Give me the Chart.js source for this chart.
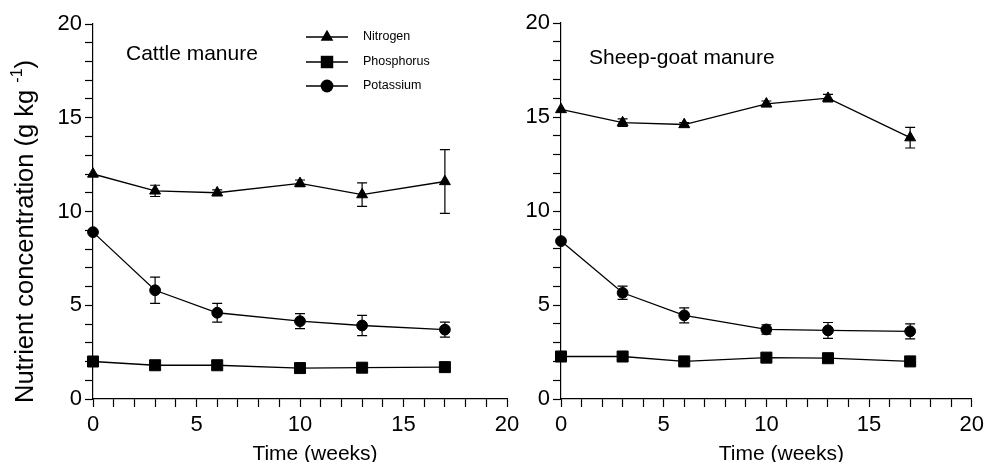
<!DOCTYPE html>
<html>
<head>
<meta charset="utf-8">
<script src="https://cdn.jsdelivr.net/npm/chart.js@4.4.0/dist/chart.umd.min.js"></script>
<style>
  html, body { margin: 0; padding: 0; background: #fff; }
  #wrap { position: relative; width: 989px; height: 462px; overflow: hidden; }
  canvas { position: absolute; top: 0; }
  #left { left: 0; }
  #right { left: 520px; }
</style>
</head>
<body>
<div id="wrap">
  <canvas id="left" width="540" height="462"></canvas>
  <canvas id="right" width="469" height="462"></canvas>
</div>
<script>
// sampling times (weeks)
const weeks = [0, 3, 6, 10, 13, 17];
const seriesNames = ["Nitrogen", "Phosphorus", "Potassium"];
const xTickLabels = [0, 5, 10, 15, 20];
const yTickLabels = [0, 5, 10, 15, 20];

// cattle manure, g kg-1
const cattleN = [12.0, 11.1, 11.0, 11.5, 10.9, 11.6];
const cattleNErr = [0, 0.3, 0.15, 0.18, 0.63, 1.7];
const cattleP = [2.0, 1.8, 1.8, 1.65, 1.67, 1.7];
const cattlePErr = [0, 0, 0, 0, 0, 0];
const cattleK = [8.9, 5.8, 4.6, 4.15, 3.92, 3.7];
const cattleKErr = [0, 0.7, 0.5, 0.4, 0.54, 0.4];

// sheep-goat manure, g kg-1
const sheepN = [15.4, 14.7, 14.6, 15.7, 16.0, 13.9];
const sheepNErr = [0, 0.2, 0.1, 0.15, 0.2, 0.55];
const sheepP = [2.26, 2.26, 2.0, 2.2, 2.17, 2.0];
const sheepPErr = [0, 0, 0, 0, 0, 0];
const sheepK = [8.4, 5.65, 4.45, 3.7, 3.65, 3.6];
const sheepKErr = [0, 0.35, 0.4, 0.25, 0.42, 0.4];

const FONT = "'Liberation Sans', Arial, Helvetica, sans-serif";
const styles = [
  { pointStyle: "triangle", radius: 6.3 },
  { pointStyle: "rect", radius: 7.8 },
  { pointStyle: "circle", radius: 5.4 },
];

function toPoints(vals) {
  return vals.map((v, i) => ({ x: weeks[i], y: v }));
}

function makeDatasets(values, errors) {
  return values.map((vals, k) => ({
    label: seriesNames[k],
    data: toPoints(vals),
    errors: errors[k],
    borderColor: "#000",
    borderWidth: 1.3,
    backgroundColor: "#000",
    pointBackgroundColor: "#000",
    pointBorderColor: "#000",
    pointBorderWidth: 1,
    pointStyle: styles[k].pointStyle,
    pointRadius: styles[k].radius,
    tension: 0,
    clip: false,
  }));
}

// draws vertical error bars with caps behind the markers
const errorBars = {
  id: "errorBars",
  beforeDatasetsDraw(chart) {
    const ctx = chart.ctx;
    const xs = chart.scales.x, ys = chart.scales.y;
    ctx.save();
    ctx.strokeStyle = "#000";
    ctx.lineWidth = 1.2;
    chart.data.datasets.forEach((ds) => {
      ds.data.forEach((p, i) => {
        const e = ds.errors[i];
        if (!e) return;
        const px = xs.getPixelForValue(p.x);
        const top = ys.getPixelForValue(p.y + e);
        const bot = ys.getPixelForValue(p.y - e);
        ctx.beginPath();
        ctx.moveTo(px, top); ctx.lineTo(px, bot);
        ctx.moveTo(px - 5, top); ctx.lineTo(px + 5, top);
        ctx.moveTo(px - 5, bot); ctx.lineTo(px + 5, bot);
        ctx.stroke();
      });
    });
    ctx.restore();
  },
};

function marker(ctx, style, x, y, r) {
  ctx.beginPath();
  if (style === "triangle") {
    ctx.moveTo(x, y - r);
    ctx.lineTo(x + r * 0.866, y + r * 0.5);
    ctx.lineTo(x - r * 0.866, y + r * 0.5);
    ctx.closePath();
  } else if (style === "rect") {
    const s = r * Math.SQRT1_2;
    ctx.rect(x - s, y - s, 2 * s, 2 * s);
  } else {
    ctx.arc(x, y, r, 0, Math.PI * 2);
  }
  ctx.fill();
}

// panel label, axis titles and the legend
const panelText = {
  id: "panelText",
  afterDraw(chart, args, opts) {
    const ctx = chart.ctx;
    const a = chart.chartArea;
    ctx.save();
    ctx.fillStyle = "#000";
    ctx.strokeStyle = "#000";

    ctx.font = "21px " + FONT;
    ctx.textAlign = "left";
    ctx.textBaseline = "alphabetic";
    ctx.fillText(opts.label, a.left + opts.labelDx, opts.labelY);

    ctx.textAlign = "center";
    ctx.fillText("Time (weeks)", (a.left + a.right) / 2 + 15, 460);

    if (opts.yTitle) {
      ctx.save();
      ctx.translate(33, 403);
      ctx.rotate(-Math.PI / 2);
      ctx.textAlign = "left";
      ctx.font = "25.5px " + FONT;
      const main = "Nutrient concentration (g kg ";
      ctx.fillText(main, 0, 0);
      let w = ctx.measureText(main).width;
      ctx.font = "16px " + FONT;
      ctx.fillText("-1", w, -11);
      w += ctx.measureText("-1").width;
      ctx.font = "25.5px " + FONT;
      ctx.fillText(")", w, 0);
      ctx.restore();
    }

    if (opts.legend) {
      const rows = [37, 62, 86];
      ctx.font = "12.5px " + FONT;
      ctx.textAlign = "left";
      ctx.textBaseline = "middle";
      seriesNames.forEach((name, k) => {
        const y = rows[k];
        ctx.lineWidth = 1.3;
        ctx.beginPath();
        ctx.moveTo(306, y); ctx.lineTo(348, y);
        ctx.stroke();
        marker(ctx, styles[k].pointStyle, 327, y, styles[k].radius + 1);
        ctx.fillText(name, 363, y);
      });
    }
    ctx.restore();
  },
};

function makeChart(id, datasets, yWidth, padding, panelOpts) {
  const tickFont = { family: FONT, size: 22 };
  return new Chart(document.getElementById(id), {
    type: "line",
    data: { datasets: datasets },
    plugins: [errorBars, panelText],
    options: {
      responsive: false,
      animation: false,
      layout: { padding: padding },
      plugins: {
        legend: { display: false },
        tooltip: { enabled: false },
        panelText: panelOpts,
      },
      scales: {
        x: {
          type: "linear",
          min: 0,
          max: 20,
          border: { color: "#000", width: 1.2 },
          grid: { drawOnChartArea: false, drawTicks: true, tickLength: 8, color: "#000", tickWidth: 1.2 },
          ticks: {
            stepSize: 1,
            autoSkip: false,
            maxRotation: 0,
            color: "#000",
            font: tickFont,
            padding: 5,
            callback: (v) => (xTickLabels.includes(v) ? String(v) : ""),
          },
          afterFit: (s) => { s.height = 63; },
        },
        y: {
          min: 0,
          max: 20,
          border: { color: "#000", width: 1.2 },
          grid: { drawOnChartArea: false, drawTicks: true, tickLength: 8, color: "#000", tickWidth: 1.2 },
          ticks: {
            stepSize: 1,
            autoSkip: false,
            color: "#000",
            font: tickFont,
            padding: 3,
            callback: (v) => (yTickLabels.includes(v) ? String(v) : ""),
          },
          afterFit: (s) => { s.width = yWidth; },
        },
      },
    },
  });
}

makeChart(
  "left",
  makeDatasets([cattleN, cattleP, cattleK], [cattleNErr, cattlePErr, cattleKErr]),
  93,
  { top: 24, right: 33, bottom: 0, left: 0 },
  { label: "Cattle manure", labelDx: 33, labelY: 60, yTitle: true, legend: true }
);

makeChart(
  "right",
  makeDatasets([sheepN, sheepP, sheepK], [sheepNErr, sheepPErr, sheepKErr]),
  41,
  { top: 23, right: 14, bottom: 0, left: 0 },
  { label: "Sheep-goat manure", labelDx: 28, labelY: 64, yTitle: false, legend: false }
);
</script>
</body>
</html>
